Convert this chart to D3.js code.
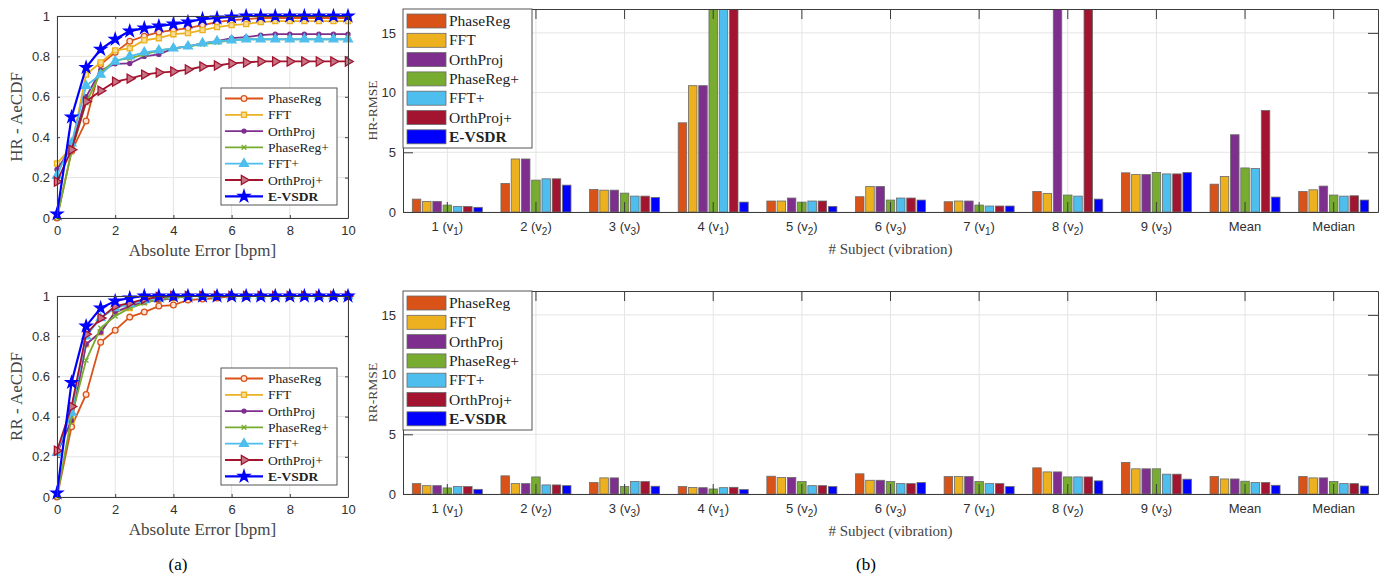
<!DOCTYPE html>
<html>
<head>
<meta charset="utf-8">
<script src="https://cdn.jsdelivr.net/npm/d3@7"></script>
<style>
  body { margin: 0; background: #fff; }
  svg { display: block; }
</style>
</head>
<body>
<div id="chart"></div>
<script>
// Chart data

const methods = ['PhaseReg', 'FFT', 'OrthProj', 'PhaseReg+', 'FFT+', 'OrthProj+', 'E-VSDR']

// x values of the AeCDF curves [bpm]
const errGrid = [0, 0.5, 1, 1.5, 2, 2.5, 3, 3.5, 4, 4.5, 5, 5.5, 6, 6.5, 7, 7.5, 8, 8.5, 9, 9.5, 10]

// HR AeCDF, one row per method
const hrCdf = [
  [0, 0.33, 0.48, 0.76, 0.82, 0.875, 0.90, 0.92, 0.93, 0.94, 0.955, 0.97, 0.98, 0.985, 0.99, 0.99, 0.99, 0.99, 0.99, 0.99, 0.99],
  [0.27, 0.35, 0.71, 0.77, 0.83, 0.84, 0.88, 0.89, 0.91, 0.915, 0.93, 0.945, 0.955, 0.96, 0.97, 0.975, 0.975, 0.975, 0.975, 0.975, 0.975],
  [0.24, 0.35, 0.60, 0.73, 0.763, 0.765, 0.80, 0.81, 0.84, 0.85, 0.865, 0.875, 0.89, 0.895, 0.905, 0.91, 0.91, 0.91, 0.91, 0.91, 0.91],
  [0, 0.33, 0.57, 0.72, 0.78, 0.79, 0.81, 0.83, 0.84, 0.85, 0.86, 0.87, 0.88, 0.885, 0.885, 0.885, 0.885, 0.885, 0.885, 0.885, 0.885],
  [0.21, 0.37, 0.654, 0.71, 0.775, 0.80, 0.82, 0.83, 0.84, 0.85, 0.865, 0.875, 0.88, 0.885, 0.885, 0.885, 0.885, 0.885, 0.885, 0.885, 0.885],
  [0.18, 0.338, 0.577, 0.63, 0.675, 0.69, 0.71, 0.72, 0.725, 0.735, 0.75, 0.755, 0.765, 0.77, 0.775, 0.775, 0.775, 0.775, 0.775, 0.775, 0.775],
  [0.02, 0.50, 0.745, 0.835, 0.885, 0.925, 0.94, 0.95, 0.96, 0.97, 0.985, 0.99, 0.995, 1, 1, 1, 1, 1, 1, 1, 1]
]

// RR AeCDF, one row per method
const rrCdf = [
  [0, 0.35, 0.51, 0.77, 0.83, 0.895, 0.92, 0.95, 0.955, 0.98, 0.985, 0.99, 1, 1, 1, 1, 1, 1, 1, 1, 1],
  [0.22, 0.38, 0.76, 0.82, 0.92, 0.94, 0.97, 0.98, 0.99, 1, 1, 1, 1, 1, 1, 1, 1, 1, 1, 1, 1],
  [0.22, 0.38, 0.76, 0.82, 0.92, 0.95, 0.97, 0.98, 0.99, 1, 1, 1, 1, 1, 1, 1, 1, 1, 1, 1, 1],
  [0, 0.40, 0.68, 0.84, 0.90, 0.94, 0.965, 0.985, 0.99, 1, 1, 1, 1, 1, 1, 1, 1, 1, 1, 1, 1],
  [0.22, 0.42, 0.80, 0.89, 0.94, 0.96, 0.98, 0.99, 1, 1, 1, 1, 1, 1, 1, 1, 1, 1, 1, 1, 1],
  [0.23, 0.45, 0.81, 0.89, 0.95, 0.965, 0.985, 0.995, 1, 1, 1, 1, 1, 1, 1, 1, 1, 1, 1, 1, 1],
  [0.02, 0.57, 0.85, 0.94, 0.975, 0.99, 1, 1, 1, 1, 1, 1, 1, 1, 1, 1, 1, 1, 1, 1, 1]
]

// bar chart categories: subject number and vibration index
const subjects = ['1', '2', '3', '4', '5', '6', '7', '8', '9', 'Mean', 'Median']
const vibrations = ['1', '2', '3', '1', '2', '3', '1', '2', '3', '', '']

// HR-RMSE, one row per method, one column per subject
const hrRmse = [
  [1.08, 2.39, 1.89, 7.47, 0.92, 1.28, 0.86, 1.72, 3.28, 2.33, 1.72],
  [0.89, 4.44, 1.83, 10.58, 0.92, 2.14, 0.92, 1.56, 3.14, 2.97, 1.86],
  [0.89, 4.44, 1.83, 10.58, 1.17, 2.14, 0.92, 33.0, 3.14, 6.47, 2.17],
  [0.58, 2.67, 1.58, 21.2, 0.83, 1.00, 0.58, 1.42, 3.31, 3.69, 1.42],
  [0.47, 2.78, 1.33, 21.1, 0.92, 1.17, 0.50, 1.33, 3.19, 3.64, 1.33],
  [0.47, 2.78, 1.33, 21.0, 0.92, 1.17, 0.50, 45.0, 3.19, 8.50, 1.36],
  [0.39, 2.25, 1.22, 0.83, 0.47, 1.00, 0.50, 1.08, 3.31, 1.25, 1.00]
]

// RR-RMSE, one row per method, one column per subject
const rrRmse = [
  [0.87, 1.52, 0.96, 0.62, 1.49, 1.69, 1.46, 2.19, 2.64, 1.46, 1.46],
  [0.70, 0.87, 1.35, 0.55, 1.38, 1.15, 1.46, 1.85, 2.11, 1.26, 1.35],
  [0.70, 0.87, 1.35, 0.53, 1.38, 1.15, 1.46, 1.85, 2.11, 1.26, 1.35],
  [0.51, 1.43, 0.62, 0.42, 1.04, 1.04, 1.04, 1.43, 2.11, 1.07, 1.04],
  [0.62, 0.76, 1.04, 0.53, 0.70, 0.87, 0.87, 1.43, 1.66, 0.96, 0.87],
  [0.62, 0.76, 1.04, 0.56, 0.70, 0.87, 0.87, 1.43, 1.66, 0.96, 0.87],
  [0.39, 0.70, 0.65, 0.37, 0.62, 0.96, 0.62, 1.10, 1.24, 0.73, 0.67]
]

const cdfTicksY = [0, 0.2, 0.4, 0.6, 0.8, 1]
const cdfTicksX = [0, 2, 4, 6, 8, 10]
const rmseTicks = [0, 5, 10, 15]

// styles
const colors = ['#D95319', '#EDB120', '#7E2F8E', '#77AC30', '#4DBEEE', '#A2142F', '#0000FF']
const markerFill = ['#fbe3d6', '#f7dc94', '#7E2F8E', 'none', '#4DBEEE', '#c77585', '#0000FF']
const markerType = [d3.symbolCircle, d3.symbolSquare, d3.symbolCircle, d3.symbolTimes, d3.symbolTriangle, d3.symbolTriangle, d3.symbolStar]
const markerSize = [26, 26, 13, 16, 34, 36, 42]
const markerRot = [0, 0, 0, 0, 0, 90, 0]

const serif = '"Liberation Serif", "DejaVu Serif", serif'
const sans = '"Liberation Sans", Arial, sans-serif'
const axisColor = '#3c3c3c'
const gridColor = '#e4e4e4'
const textColor = '#303030'

var svg = d3.select('#chart')
  .append('svg')
  .attr('width', 1384)
  .attr('height', 576)

svg.append('rect').attr('width', 1384).attr('height', 576).attr('fill', '#fff')

// ---------- AeCDF panels ----------
function cdfPanel(top, bottom, rows, yLabel) {
  var left = 57, right = 348
  const x = d3.scaleLinear().domain([0, 10]).range([left, right])
  const y = d3.scaleLinear().domain([0, 1]).range([bottom, top])
  var g = svg.append('g')

  // grid
  g.selectAll('.gx').data(cdfTicksX).enter().append('line')
    .attr('x1', (d) => x(d)).attr('x2', (d) => x(d))
    .attr('y1', top).attr('y2', bottom)
    .attr('stroke', gridColor)
  g.selectAll('.gy').data(cdfTicksY).enter().append('line')
    .attr('x1', left).attr('x2', right)
    .attr('y1', (d) => y(d)).attr('y2', (d) => y(d))
    .attr('stroke', gridColor)

  // curves
  const line = d3.line().x((d, i) => x(errGrid[i])).y((d) => y(d))
  rows.forEach((row, k) => {
    g.append('path')
      .datum(row)
      .attr('d', line)
      .attr('fill', 'none')
      .attr('stroke', colors[k])
      .attr('stroke-width', k === 6 ? 2.2 : 1.8)
    g.selectAll('.m' + k).data(row).enter().append('path')
      .attr('d', d3.symbol().type(markerType[k]).size(markerSize[k]))
      .attr('transform', (d, i) => `translate(${x(errGrid[i])},${y(d)}) rotate(${markerRot[k]})`)
      .attr('fill', markerFill[k])
      .attr('stroke', colors[k])
      .attr('stroke-width', 1.3)
  })

  // axes with inside ticks on all four sides
  const axes = [
    [d3.axisBottom(x).tickValues(cdfTicksX).tickSizeInner(-3).tickSizeOuter(0).tickPadding(8), `translate(0,${bottom})`],
    [d3.axisTop(x).tickValues(cdfTicksX).tickSizeInner(-3).tickSizeOuter(0).tickFormat(''), `translate(0,${top})`],
    [d3.axisLeft(y).tickValues(cdfTicksY).tickSizeInner(-3).tickSizeOuter(0).tickPadding(7).tickFormat(d3.format('')), `translate(${left},0)`],
    [d3.axisRight(y).tickValues(cdfTicksY).tickSizeInner(-3).tickSizeOuter(0).tickFormat(''), `translate(${right},0)`]
  ]
  axes.forEach(([ax, tr]) => {
    var a = g.append('g').attr('transform', tr).call(ax)
    a.select('.domain').attr('stroke', axisColor)
    a.selectAll('.tick line').attr('stroke', axisColor)
    a.selectAll('text').attr('fill', textColor).style('font-family', sans).style('font-size', '13px')
  })

  g.append('text')
    .attr('x', (left + right) / 2).attr('y', bottom + 38)
    .attr('text-anchor', 'middle')
    .attr('fill', '#444')
    .style('font-family', serif).style('font-size', '17px')
    .text('Absolute Error [bpm]')
  g.append('text')
    .attr('transform', `translate(22,${(top + bottom) / 2}) rotate(-90)`)
    .attr('text-anchor', 'middle')
    .attr('fill', '#444')
    .style('font-family', serif).style('font-size', '17px')
    .text(yLabel)

  // legend
  var lg = g.append('g').attr('transform', `translate(221,${top + 72})`)
  lg.append('rect').attr('width', 116).attr('height', 117)
    .attr('fill', '#fff').attr('stroke', '#555').attr('stroke-width', 1)
  methods.forEach((m, k) => {
    var cy = 10.5 + k * 16.3
    lg.append('line').attr('x1', 4).attr('x2', 42).attr('y1', cy).attr('y2', cy)
      .attr('stroke', colors[k]).attr('stroke-width', k === 6 ? 2.2 : 1.8)
    lg.append('path')
      .attr('d', d3.symbol().type(markerType[k]).size(markerSize[k]))
      .attr('transform', `translate(23,${cy}) rotate(${markerRot[k]})`)
      .attr('fill', markerFill[k]).attr('stroke', colors[k]).attr('stroke-width', 1.3)
    lg.append('text').attr('x', 47).attr('y', cy + 4.5)
      .attr('fill', '#222')
      .style('font-family', serif).style('font-size', '13.5px')
      .style('font-weight', k === 6 ? 'bold' : 'normal')
      .text(m)
  })
}

cdfPanel(16, 218, hrCdf, 'HR - AeCDF')
cdfPanel(296, 497, rrCdf, 'RR - AeCDF')

// ---------- RMSE bar panels ----------
function barPanel(top, bottom, rows, yLabel, id) {
  var left = 403, right = 1378
  const x0 = d3.scaleBand().domain(subjects).range([left, right]).paddingInner(0.21).paddingOuter(0.105)
  const x1 = d3.scaleBand().domain(methods).range([0, x0.bandwidth()]).paddingInner(0.17)
  const y = d3.scaleLinear().domain([0, 17]).range([bottom, top])
  const centers = subjects.map((s) => x0(s) + x0.bandwidth() / 2)
  var g = svg.append('g')

  g.append('clipPath').attr('id', id).append('rect')
    .attr('x', left).attr('y', top).attr('width', right - left).attr('height', bottom - top)

  // grid
  g.selectAll('.gx').data(centers).enter().append('line')
    .attr('x1', (d) => d).attr('x2', (d) => d)
    .attr('y1', top).attr('y2', bottom).attr('stroke', gridColor)
  g.selectAll('.gy').data(rmseTicks).enter().append('line')
    .attr('x1', left).attr('x2', right)
    .attr('y1', (d) => y(d)).attr('y2', (d) => y(d)).attr('stroke', gridColor)

  // bars
  var bars = g.append('g').attr('clip-path', `url(#${id})`)
  rows.forEach((row, k) => {
    bars.selectAll('.b' + k).data(row).enter().append('rect')
      .attr('x', (d, i) => x0(subjects[i]) + x1(methods[k]))
      .attr('width', x1.bandwidth())
      .attr('y', (d) => y(d))
      .attr('height', (d) => bottom - y(d))
      .attr('fill', colors[k])
      .attr('stroke', '#6a6a6a')
      .attr('stroke-width', 0.8)
  })

  // axes: inside ticks on all sides
  const xb = d3.axisBottom(x0).tickSizeInner(-10).tickSizeOuter(0).tickPadding(10)
  const xt = d3.axisTop(x0).tickSizeInner(-10).tickSizeOuter(0).tickFormat('')
  const yl = d3.axisLeft(y).tickValues(rmseTicks).tickSizeInner(-10).tickSizeOuter(0).tickPadding(7)
  const yr = d3.axisRight(y).tickValues(rmseTicks).tickSizeInner(-10).tickSizeOuter(0).tickFormat('')
  var ax = [
    g.append('g').attr('transform', `translate(0,${bottom})`).call(xb),
    g.append('g').attr('transform', `translate(0,${top})`).call(xt),
    g.append('g').attr('transform', `translate(${left},0)`).call(yl),
    g.append('g').attr('transform', `translate(${right},0)`).call(yr)
  ]
  ax.forEach((a) => {
    a.select('.domain').attr('stroke', axisColor)
    a.selectAll('.tick line').attr('stroke', axisColor)
    a.selectAll('text').attr('fill', textColor).style('font-family', sans).style('font-size', '13px')
  })

  // tick labels with vibration subscripts
  ax[0].selectAll('.tick text').each(function (d, i) {
    var t = d3.select(this).text('')
    if (vibrations[i] === '') { t.text(d); return }
    t.append('tspan').text(`${d} (v`)
    t.append('tspan').attr('dy', 4).style('font-size', '10px').text(vibrations[i])
    t.append('tspan').attr('dy', -4).text(')')
  })

  g.append('text')
    .attr('x', (left + right) / 2).attr('y', bottom + 42)
    .attr('text-anchor', 'middle').attr('fill', '#444')
    .style('font-family', serif).style('font-size', '15px')
    .text('# Subject (vibration)')
  g.append('text')
    .attr('transform', `translate(377,${(top + bottom) / 2}) rotate(-90)`)
    .attr('text-anchor', 'middle').attr('fill', '#444')
    .style('font-family', serif).style('font-size', '13.5px')
    .text(yLabel)

  // legend
  var lg = g.append('g').attr('transform', `translate(${left},${top})`)
  lg.append('rect').attr('width', 129).attr('height', 139)
    .attr('fill', '#fff').attr('stroke', '#555').attr('stroke-width', 1)
  methods.forEach((m, k) => {
    var cy = 12 + k * 19.3
    lg.append('rect').attr('x', 4).attr('y', cy - 7).attr('width', 39).attr('height', 14)
      .attr('fill', colors[k]).attr('stroke', '#6a6a6a').attr('stroke-width', 0.8)
    lg.append('text').attr('x', 46).attr('y', cy + 5)
      .attr('fill', '#222')
      .style('font-family', serif).style('font-size', '15.5px')
      .style('font-weight', k === 6 ? 'bold' : 'normal')
      .text(m)
  })
}

barPanel(9, 212, hrRmse, 'HR-RMSE', 'clipHr')
barPanel(291, 494, rrRmse, 'RR-RMSE', 'clipRr')

// sub-figure captions
svg.append('text').attr('x', 178).attr('y', 570).attr('text-anchor', 'middle')
  .style('font-family', serif).style('font-size', '17px').text('(a)')
svg.append('text').attr('x', 866).attr('y', 570).attr('text-anchor', 'middle')
  .style('font-family', serif).style('font-size', '17px').text('(b)')
</script>
</body>
</html>
